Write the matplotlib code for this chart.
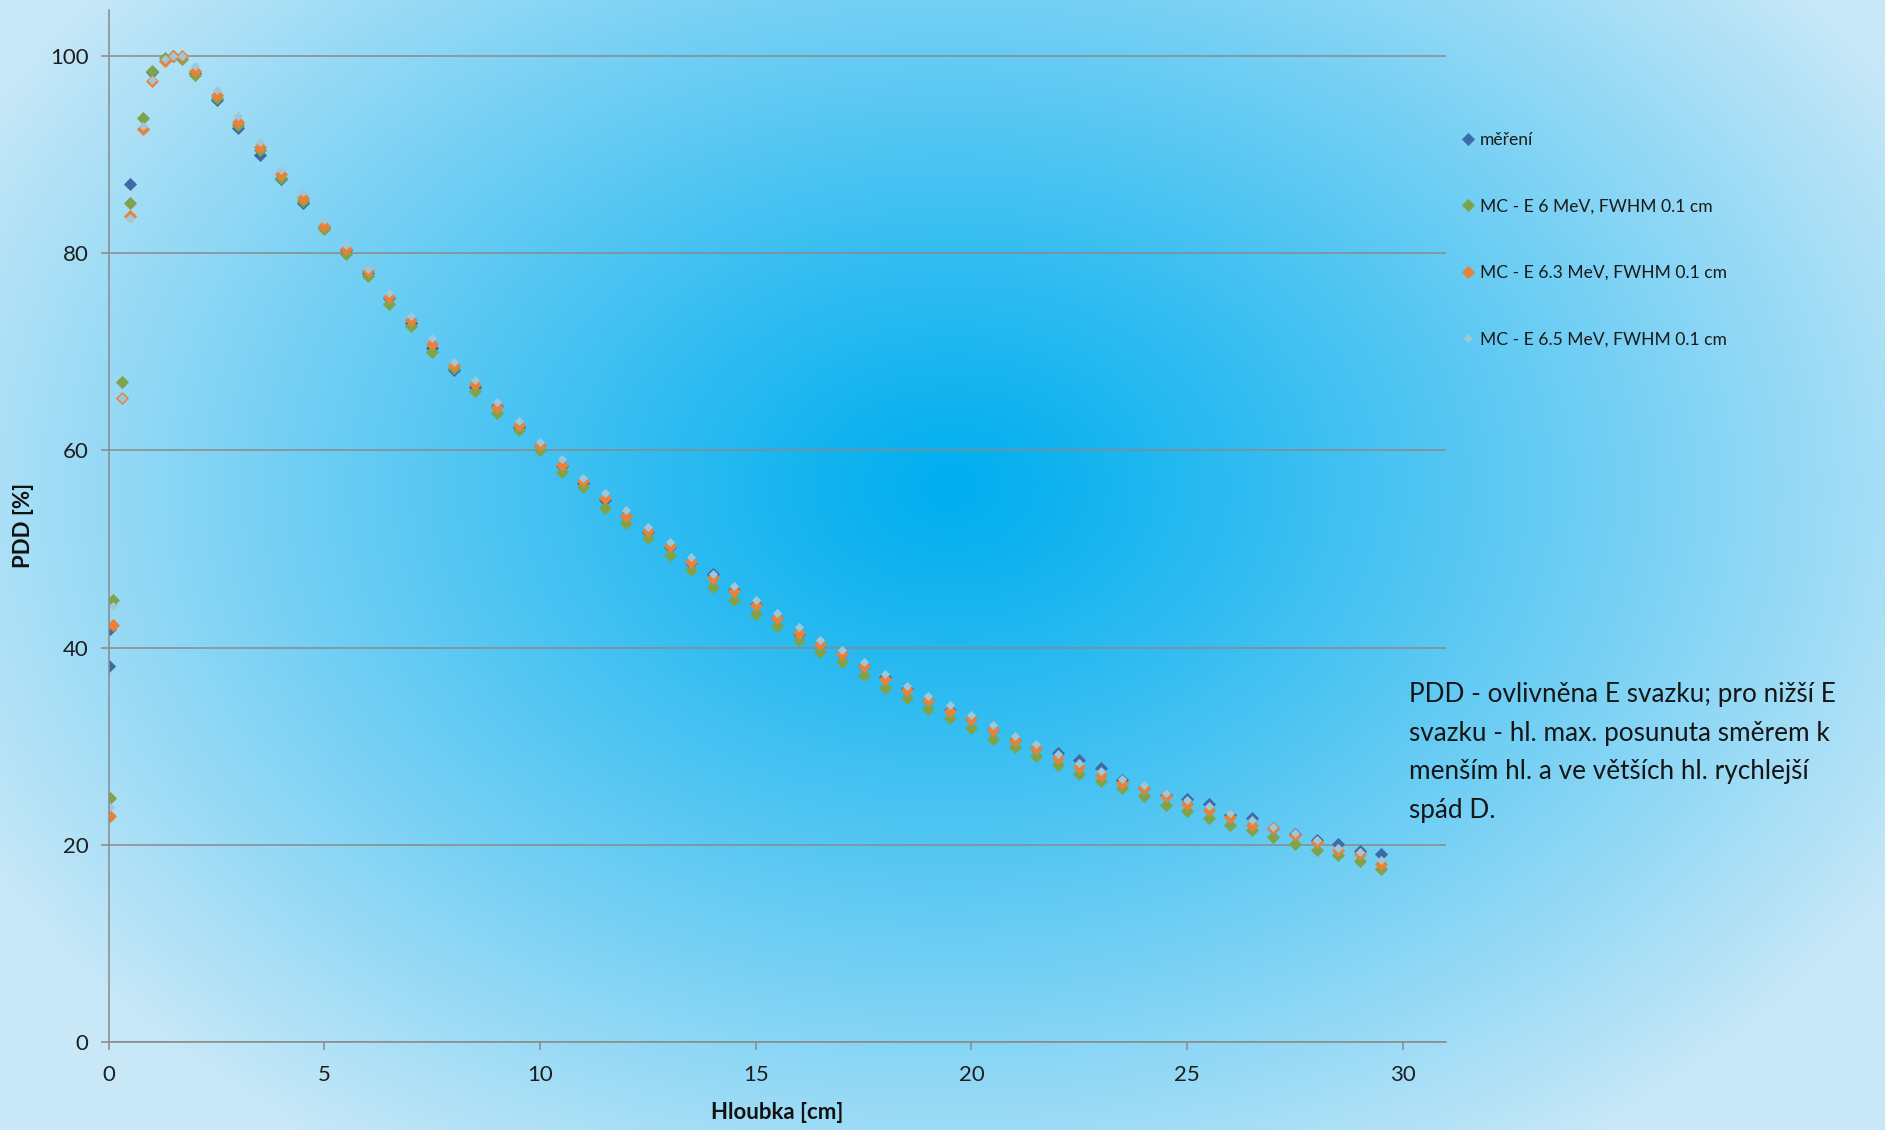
import numpy as np
import matplotlib
matplotlib.use("Agg")
from matplotlib import pyplot as plt

plt.rcParams['font.family'] = ['Lato', 'DejaVu Sans']

# hloubky [cm]
depth_meas = [0.0, 0.02, 0.5, 1.0, 1.5, 2.0] + list(np.arange(2.5, 30.0, 0.5))
depth_mc = [0.03, 0.1, 0.3, 0.5, 0.8, 1.0, 1.3, 1.5, 1.7, 2.0] + list(np.arange(2.5, 30.0, 0.5))

pdd_meas = [38.1, 41.9, 87.0, 98.4, 100.0, 98.3,
            95.6, 92.7, 90.0, 87.5, 85.1, 82.7, 80.3, 78.0, 75.5, 72.9,
            70.4, 68.2, 66.4, 64.5, 62.4, 60.6, 58.4, 56.7, 55.0, 53.4,
            51.7, 50.2, 48.6, 47.5, 45.8, 44.4, 43.0, 41.4, 40.4, 39.3,
            38.1, 37.0, 35.8, 34.7, 33.7, 32.7, 31.6, 30.6, 29.8, 29.3,
            28.6, 27.8, 26.6, 25.7, 25.0, 24.6, 24.1, 23.0, 22.7, 21.7,
            21.1, 20.5, 20.1, 19.4, 19.0]

pdd_e60 = [24.7, 44.8, 66.9, 85.1, 93.7, 98.5, 99.8, 100.0, 99.7, 98.1,
           95.8, 93.0, 90.5, 87.7, 85.3, 82.5, 79.9, 77.7, 74.9, 72.6,
           70.0, 68.4, 66.0, 63.8, 62.1, 60.0, 57.8, 56.3, 54.2, 52.6,
           51.1, 49.4, 47.9, 46.1, 44.8, 43.4, 42.2, 40.8, 39.5, 38.5,
           37.2, 35.9, 34.9, 33.8, 32.8, 31.8, 30.7, 29.9, 29.0, 28.1,
           27.2, 26.5, 25.7, 24.9, 24.0, 23.4, 22.7, 22.0, 21.5, 20.8,
           20.1, 19.5, 18.9, 18.3, 17.5]

pdd_e63 = [22.9, 42.3, 65.3, 83.8, 92.6, 97.5, 99.5, 100.0, 100.0, 98.5,
           96.1, 93.3, 90.8, 88.1, 85.6, 82.8, 80.4, 78.2, 75.6, 73.2,
           70.8, 68.7, 66.7, 64.4, 62.6, 60.6, 58.5, 56.9, 55.2, 53.4,
           51.8, 50.3, 48.7, 47.1, 45.7, 44.3, 43.0, 41.5, 40.4, 39.3,
           38.1, 36.8, 35.7, 34.7, 33.6, 32.7, 31.6, 30.6, 29.8, 28.8,
           27.9, 27.1, 26.3, 25.7, 24.9, 24.1, 23.5, 22.8, 22.0, 21.7,
           21.0, 20.3, 19.5, 19.0, 18.0]

pdd_e65 = [23.8, 44.2, 65.3, 83.6, 92.9, 97.6, 99.7, 100.0, 100.0, 99.0,
           96.6, 93.9, 91.3, 88.5, 86.2, 83.4, 80.9, 78.4, 76.0, 73.6,
           71.4, 69.0, 67.2, 64.9, 63.0, 60.9, 59.1, 57.2, 55.7, 54.0,
           52.2, 50.7, 49.2, 47.5, 46.2, 44.8, 43.5, 42.1, 40.8, 39.8,
           38.5, 37.3, 36.1, 35.1, 34.2, 33.2, 32.1, 31.0, 30.2, 29.2,
           28.3, 27.5, 26.7, 26.0, 25.2, 24.5, 23.9, 23.2, 22.5, 21.8,
           21.2, 20.5, 19.7, 19.3, 18.4]

labels = ["měření",
          "MC - E 6 MeV, FWHM 0.1 cm",
          "MC - E 6.3 MeV, FWHM 0.1 cm",
          "MC - E 6.5 MeV, FWHM 0.1 cm"]
colors = ["#3d6ba8", "#7fa34a", "#e8823a", "#9fc7d8"]

note = ("PDD - ovlivněna E svazku; pro nižší E\n"
        "svazku - hl. max. posunuta směrem k\n"
        "menším hl. a ve větších hl. rychlejší\n"
        "spád D.")

W, H = 1885, 1130
fig = plt.figure(figsize=(W / 100, H / 100), dpi=100)

# radial gradient background of the slide
yy, xx = np.mgrid[0:H, 0:W]
r = np.sqrt(((xx - 950) / 1100.0) ** 2 + ((yy - 487) / 800.0) ** 2)
r = np.clip(r, 0, 1) ** 1.1
r = r[..., None]
c_in = np.array([0x00, 0xae, 0xef]) / 255.0
c_out = np.array([0xc8, 0xe8, 0xf8]) / 255.0
img = c_in * (1 - r) + c_out * r
bg = fig.add_axes([0, 0, 1, 1], zorder=-1)
bg.imshow(img, aspect='auto', interpolation='bilinear')
bg.axis('off')

ax = fig.add_axes([108.7 / W, 1 - 1041.7 / H, (1446 - 108.7) / W, (1041.7 - 10) / H])
ax.patch.set_alpha(0)

series = [(depth_meas, pdd_meas, 6.3), (depth_mc, pdd_e60, 6.3),
          (depth_mc, pdd_e63, 6.3), (depth_mc, pdd_e65, 4.3)]
handles = []
for (x, y, ms), c, lab in zip(series, colors, labels):
    h, = ax.plot(x, y, linestyle='none', marker='D', ms=ms, color=c,
                 mec=c, mew=0.6, label=lab)
    handles.append(h)

ax.set_xlim(0, 31)
ax.set_ylim(0, 104.7)
ax.set_xticks(range(0, 31, 5))
ax.set_yticks(range(0, 101, 20))

grid_c = "#8a8a8a"
ax.yaxis.grid(True, color=grid_c, lw=1.1)
ax.set_axisbelow(True)
for s in ['top', 'right']:
    ax.spines[s].set_visible(False)
for s in ['left', 'bottom']:
    ax.spines[s].set_color(grid_c)
    ax.spines[s].set_linewidth(1.1)
ax.tick_params(axis='both', direction='out', length=5.5, width=1.1,
               color=grid_c, labelsize=16, labelcolor="#1e1e1e")
ax.tick_params(axis='x', pad=11)
ax.tick_params(axis='y', pad=9)

ax.set_xlabel("Hloubka [cm]", fontsize=16, fontweight='bold', color="#111111")
ax.set_ylabel("PDD [%]", fontsize=16, fontweight='bold', color="#111111")
ax.xaxis.set_label_coords(0.5, -0.058)
ax.yaxis.set_label_coords(-0.056, 0.5)

fig.legend(handles, labels, loc='upper left', bbox_to_anchor=(0.7754, 0.883),
           frameon=False, fontsize=12.6, labelspacing=2.88, handlelength=0.7,
           handletextpad=0.35, borderpad=0, borderaxespad=0, numpoints=1,
           labelcolor="#1a1a1a")

fig.text(1409 / W, 1 - 682 / H, note, fontsize=18.8, va='top', ha='left',
         color="#151515", linespacing=1.68)

fig.savefig("out.png", dpi=100)
